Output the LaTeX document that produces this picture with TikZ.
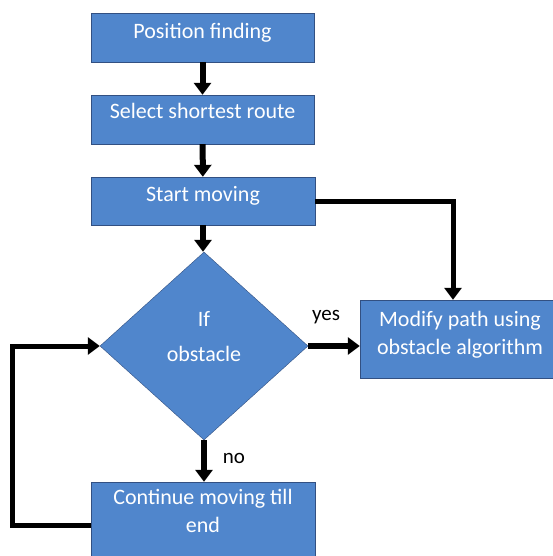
\documentclass[tikz,border=0pt]{standalone}
\usepackage{fontspec}
\setmainfont{Carlito}
\usetikzlibrary{shapes.geometric,arrows.meta}
\definecolor{boxblue}{RGB}{80,134,204}
\definecolor{boxline}{RGB}{50,80,130}

\begin{document}
\begin{tikzpicture}[x=1pt,y=-1pt,
  box/.style={draw=boxline,fill=boxblue,text=white,inner sep=0pt,align=center,font=\fontsize{22}{28}\selectfont},
  flow/.style={line width=6pt,-{Triangle[width=17pt,length=12pt]}}]
\useasboundingbox (0,0) rectangle (552,556);
\node[box,minimum width=223pt,minimum height=49pt,text depth=13pt] (pos) at (202.5,37.5) {Position finding};
\node[box,minimum width=223pt,minimum height=49pt,text depth=18pt] (sel) at (202.5,119.5) {Select shortest route};
\node[box,minimum width=224pt,minimum height=48pt,text depth=15pt] (start) at (203,201) {Start moving};
\node[box,diamond,minimum width=208pt,minimum height=188pt,text depth=20pt] (dec) at (204,346) {If\\[7pt]obstacle};
\node[box,minimum width=200pt,minimum height=78pt,text depth=12pt] (mod) at (460,339) {Modify path using\\obstacle algorithm};
\node[box,minimum width=224pt,minimum height=80pt,text depth=22pt] (cont) at (203,522) {Continue moving till\\end};
\draw[flow] (pos) -- (sel);
\draw[flow] (sel) -- (start);
\draw[flow] (start) -- (start|-dec.north);
\draw[flow] (dec.east) -- (dec.east-|mod.west);
\draw[flow] (dec.south) -- (dec.south|-cont.north);
\draw[flow,line width=5pt] (start.east) -| ([xshift=-7pt]mod.north);
\draw[flow,line width=5pt] ([yshift=-3pt]cont.west) -- ++(-78,0) |- (dec.west);
\node[font=\fontsize{21}{24}\selectfont] (yes) at (326,317) {yes};
\node[font=\fontsize{21}{24}\selectfont] (no) at (234,458) {no};
\end{tikzpicture}
\end{document}
